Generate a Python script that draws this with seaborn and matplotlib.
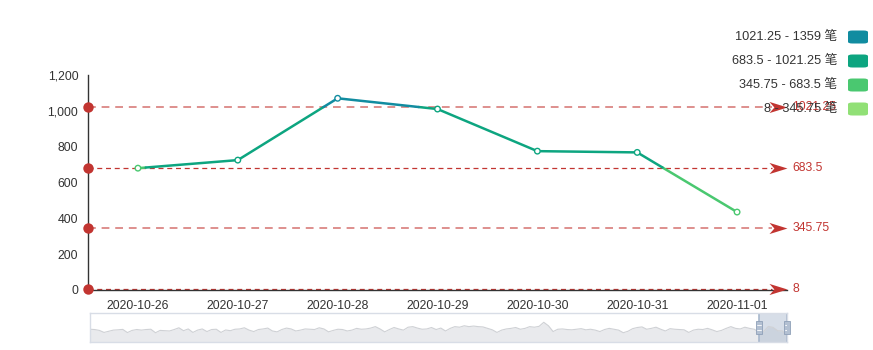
import numpy as np
import pandas as pd
import matplotlib
matplotlib.use("Agg")
import matplotlib.pyplot as plt
import seaborn as sns
from matplotlib.patches import FancyBboxPatch, Rectangle
from matplotlib.path import Path
from matplotlib.ticker import FuncFormatter, FixedLocator

# ---------------- data ----------------
dates = ["2020-10-26", "2020-10-27", "2020-10-28", "2020-10-29",
         "2020-10-30", "2020-10-31", "2020-11-01"]
values = [680, 725, 1070, 1010, 775, 768, 435]

piece_bounds = [8, 345.75, 683.5, 1021.25, 1359]
piece_colors = ["#91e076", "#4ac870", "#0da580", "#118ca0"]
piece_labels = ["8 - 345.75 笔", "345.75 - 683.5 笔", "683.5 - 1021.25 笔", "1021.25 - 1359 笔"]
mark_values = [8, 345.75, 683.5, 1021.25]
mark_labels = ["8", "345.75", "683.5", "1021.25"]

yticks = [0, 200, 400, 600, 800, 1000, 1200]

history = [
    880, 860, 800, 660, 740, 820, 840, 870, 650, 800, 860, 820, 860,
    880, 640, 800, 780, 760, 860, 980, 780, 900, 660, 820, 900, 720,
    860, 880, 660, 830, 780, 880, 900, 980, 820, 720, 860, 900, 960,
    760, 700, 860, 960, 900, 760, 820, 900, 880, 860, 980, 900, 700,
    800, 880, 860, 760, 820, 940, 880, 900, 960, 1060, 900, 700, 860,
    1000, 900, 820, 1020, 1060, 960, 880, 900, 1000, 860, 960, 760, 940,
    1060, 1020, 1120, 1060, 1100, 1060, 1040, 940, 840, 660, 820, 900, 940,
    1000, 880, 940, 1060, 1020, 1080, 1359, 1120, 720, 880, 900, 860, 840,
    880, 920, 840, 880, 820, 720, 860, 940, 880, 820, 640, 740, 920,
    1000, 1040, 880, 940, 1020, 880, 760, 920, 880, 860, 840, 660, 820,
    880, 860, 940, 840, 720, 800, 940, 1060, 940, 900, 1020, 940, 880,
    680, 725, 1070, 1010, 775, 768, 435,
]

# ---------------- style ----------------
sns.set_style("white")
plt.rcParams["font.family"] = ["Liberation Sans", "Noto Sans CJK SC", "DejaVu Sans"]
TXT = "#333333"
RED = "#c23531"

W, H = 873, 350
fig = plt.figure(figsize=(W / 100, H / 100), dpi=100)

def fx(px):
    return px / W

def fy(py):
    return 1 - py / H

ax = fig.add_axes([fx(88), fy(290), fx(787) - fx(88), fy(75) - fy(290)])


def band_of(v):
    for i in range(len(piece_bounds) - 1):
        if v < piece_bounds[i + 1]:
            return i
    return len(piece_bounds) - 2


# split line into sub-segments at piece boundaries
rows = []
seg = 0
for i in range(len(values) - 1):
    y0, y1 = values[i], values[i + 1]
    cuts = [0.0]
    for b in piece_bounds[1:-1]:
        if (y0 - b) * (y1 - b) < 0:
            cuts.append((b - y0) / (y1 - y0))
    cuts.append(1.0)
    cuts.sort()
    for a, c in zip(cuts[:-1], cuts[1:]):
        ym = y0 + (a + c) / 2 * (y1 - y0)
        band = piece_labels[band_of(ym)]
        for t in (a, c):
            rows.append({"x": i + t, "y": y0 + t * (y1 - y0), "seg": seg, "band": band})
        seg += 1
df_line = pd.DataFrame(rows)
palette = dict(zip(piece_labels, piece_colors))

sns.lineplot(data=df_line, x="x", y="y", hue="band", units="seg", estimator=None,
             palette=palette, sort=False, legend=False, linewidth=1.8, ax=ax, zorder=3)

df_pts = pd.DataFrame({"x": np.arange(len(values)), "y": values,
                       "band": [piece_labels[band_of(v)] for v in values]})
sns.scatterplot(data=df_pts, x="x", y="y", hue="band", palette=palette,
                legend=False, s=16, ax=ax, zorder=5, linewidth=1.0)
coll = ax.collections[-1]
coll.set_edgecolors(coll.get_facecolors())
coll.set_facecolors("white")

ax.set_xlim(-0.5, len(dates) - 0.5)
ax.set_ylim(0, 1200)

# mark lines
arrow_path = Path([(0, 0), (-2.0, 0.62), (-1.45, 0), (-2.0, -0.62), (0, 0)],
                  [Path.MOVETO, Path.LINETO, Path.LINETO, Path.LINETO, Path.CLOSEPOLY])
for k, (mv, ml) in enumerate(zip(mark_values, mark_labels)):
    alpha = 0.55 if k in (1, 3) else 1.0
    lw = 1.4 if k in (1, 3) else 0.9
    ax.plot([-0.5, len(dates) - 0.5 - 0.15], [mv, mv], color=RED, alpha=alpha,
            linewidth=lw, linestyle=(0, (4, 3)), zorder=2, clip_on=False)
    ax.plot([-0.5], [mv], marker="o", markersize=7.5, color=RED, clip_on=False,
            zorder=6, markeredgewidth=0)
    ax.plot([len(dates) - 0.5], [mv], marker=arrow_path, markersize=26, color=RED,
            clip_on=False, zorder=6, markeredgewidth=0)
    ax.annotate(ml, xy=(len(dates) - 0.5, mv), xytext=(4, 0), textcoords="offset points",
                ha="left", va="center", color=RED, fontsize=8.8, annotation_clip=False)

# axes styling
for s in ("top", "right"):
    ax.spines[s].set_visible(False)
for s in ("left", "bottom"):
    ax.spines[s].set_color(TXT)
    ax.spines[s].set_linewidth(1.0)

ax.set_yticks(yticks)
ax.yaxis.set_major_formatter(FuncFormatter(lambda v, p: f"{int(v):,}"))
ax.tick_params(axis="y", length=4, width=1, color=TXT, labelcolor=TXT, labelsize=8.8, pad=3)

ax.xaxis.set_major_locator(FixedLocator(np.arange(-0.5, len(dates), 1.0)))
ax.xaxis.set_minor_locator(FixedLocator(np.arange(len(dates))))
ax.set_xticklabels([""] * (len(dates) + 1))
ax.set_xticklabels(dates, minor=True)
ax.tick_params(axis="x", which="major", length=4, width=1, color=TXT)
ax.tick_params(axis="x", which="minor", length=0, labelcolor=TXT, labelsize=8.8, pad=7)
ax.set_xlabel("")
ax.set_ylabel("")

# legend (visualMap pieces), top to bottom from highest
leg_y = [37, 61, 85, 109]
for i, py in enumerate(leg_y):
    idx = len(piece_labels) - 1 - i
    fig.text(fx(837), fy(py), piece_labels[idx], ha="right", va="center",
             fontsize=9.2, color=TXT)
    fig.patches.append(FancyBboxPatch((fx(848), fy(py + 6.5)), fx(868) - fx(848),
                                      fy(py - 6.5) - fy(py + 6.5),
                                      boxstyle="round,pad=0,rounding_size=0.005",
                                      transform=fig.transFigure, facecolor=piece_colors[idx],
                                      edgecolor="none"))

# data zoom slider
zx = fig.add_axes([fx(90), fy(342), fx(787) - fx(90), fy(313) - fy(342)])
n = len(history)
hx = np.arange(n)
df_hist = pd.DataFrame({"i": hx, "v": history})
ytop = 2000
zx.fill_between(hx, history, 0, color="#e9eaed", linewidth=0)
sns.lineplot(data=df_hist, x="i", y="v", ax=zx, color="#cfd1d5", linewidth=0.8)
zx.set_xlim(0, n - 1)
zx.set_ylim(0, ytop)
zx.set_xticks([])
zx.set_yticks([])
zx.set_xlabel("")
zx.set_ylabel("")
for s in zx.spines.values():
    s.set_color("#d8dde6")
    s.set_linewidth(1)
start = n - len(dates)
zx.axvspan(start, n - 1, color="#a7b7cc", alpha=0.45, linewidth=0)
for xv in (start, n - 1):
    zx.axvline(xv, color="#a7b7cc", linewidth=1.2)
    zx.add_patch(Rectangle((xv - 0.6, 0.28 * ytop), 1.2, 0.44 * ytop,
                           facecolor="#b3c0d2", edgecolor="#8fa0b8", linewidth=0.6,
                           clip_on=False, zorder=5))
    for frac in (0.42, 0.58):
        zx.plot([xv - 0.45, xv + 0.45], [frac * ytop] * 2, color="white",
                linewidth=0.6, zorder=6)

fig.savefig("out.png", dpi=100)
